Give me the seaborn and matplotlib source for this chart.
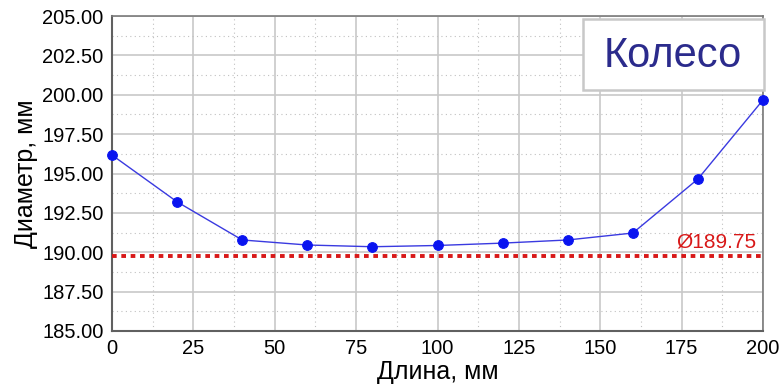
import matplotlib
matplotlib.use("Agg")
import matplotlib.pyplot as plt
import seaborn as sns
import pandas as pd
from matplotlib.ticker import MultipleLocator, FormatStrFormatter
from matplotlib.patches import Rectangle

length_mm = [0, 20, 40, 60, 80, 100, 120, 140, 160, 180, 200]
diameter_mm = [196.17, 193.2, 190.78, 190.46, 190.35, 190.43, 190.58, 190.78, 191.22, 194.65, 199.67]
limit_value = 189.75
limit_label = "Ø189.75"
title_text = "Колесо"
x_label = "Длина, мм"
y_label = "Диаметр, мм"

sns.set_theme(style="white")
plt.rcParams['font.family'] = ['Liberation Sans', 'DejaVu Sans']

df = pd.DataFrame({"x": length_mm, "y": diameter_mm})

fig = plt.figure(figsize=(7.84, 3.86), dpi=100)
ax = fig.add_axes([112/784, 1-331/386, (763-112)/784, (331-16)/386])

ax.set_xlim(0, 200)
ax.set_ylim(185, 205)
ax.xaxis.set_major_locator(MultipleLocator(25))
ax.xaxis.set_minor_locator(MultipleLocator(12.5))
ax.yaxis.set_major_locator(MultipleLocator(2.5))
ax.yaxis.set_minor_locator(MultipleLocator(1.25))
ax.yaxis.set_major_formatter(FormatStrFormatter("%.2f"))

ax.grid(which="major", color="#c8c8c8", linewidth=1.2, linestyle="-")
ax.grid(which="minor", color="#c0c0c0", linewidth=0.8, linestyle=(0, (1, 3)))
ax.set_axisbelow(True)

ax.axhline(limit_value, color="#d81818", linewidth=2.8, linestyle=(0, (1.2, 1.2)), zorder=3)

sns.lineplot(data=df, x="x", y="y", ax=ax, color="#3a3ae0", linewidth=1.0,
             marker="o", markersize=7, markerfacecolor="#0a14f0",
             markeredgecolor="#0a14f0", zorder=4, clip_on=False)

ax.text(198, limit_value + 0.3, limit_label, color="#d81818", fontsize=15,
        ha="right", va="bottom", zorder=5)

box = Rectangle((0.7235, 0.765), 0.278, 0.2255, transform=ax.transAxes,
                facecolor="white", edgecolor="#c8c8c8", linewidth=1.8, zorder=6, clip_on=False)
ax.add_patch(box)
ax.text(0.862, 0.872, title_text, transform=ax.transAxes, fontsize=30, color="#2b2b8c",
        ha="center", va="center", zorder=7)

ax.set_xlabel(x_label, fontsize=18, color="black", labelpad=1)
ax.set_ylabel(y_label, fontsize=18, color="black", labelpad=3)
ax.tick_params(axis="both", which="major", labelsize=14.5, colors="black",
               length=4, width=1, direction="out", pad=2)
ax.tick_params(axis="both", which="minor", length=0)

for side in ["left", "bottom"]:
    ax.spines[side].set_color("#606060")
    ax.spines[side].set_linewidth(1.5)
for side in ["top", "right"]:
    ax.spines[side].set_color("#7a7a7a")
    ax.spines[side].set_linewidth(1.2)

fig.savefig("out.png", dpi=100)
